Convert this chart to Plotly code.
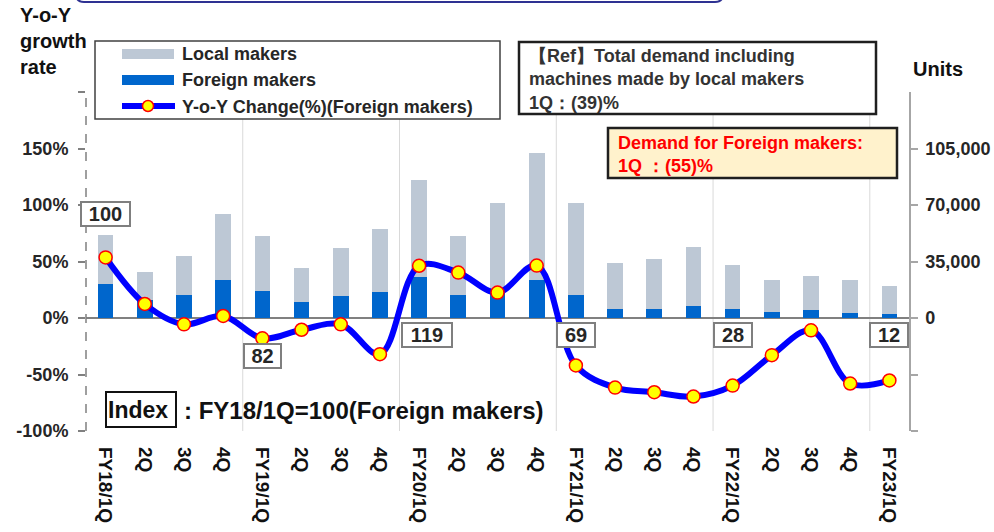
import plotly.graph_objects as go

# ---------------- data ----------------
labels = ["FY18/1Q", "2Q", "3Q", "4Q",
          "FY19/1Q", "2Q", "3Q", "4Q",
          "FY20/1Q", "2Q", "3Q", "4Q",
          "FY21/1Q", "2Q", "3Q", "4Q",
          "FY22/1Q", "2Q", "3Q", "4Q",
          "FY23/1Q"]
foreign = [21100, 11300, 14500, 23600, 17000, 10100, 13500, 16200,
           25100, 14500, 16200, 23600, 14500, 5600, 5800, 7300,
           5600, 3900, 5000, 2900, 2700]
local = [30500, 17500, 24200, 40900, 33800, 20800, 30000, 38900,
         60300, 36300, 55100, 78400, 56800, 28400, 30700, 36700,
         27200, 19700, 21100, 20700, 17200]
yoy = [53.6, 12.4, -5.6, 1.8, -18.0, -10.4, -5.6, -32.0,
       46.2, 40.2, 22.5, 46.4, -42.0, -61.6, -65.7, -69.5,
       -59.8, -32.9, -10.9, -58.0, -55.3]
index_cats = [0, 4, 8, 12, 16, 20]
index_vals = [100, 82, 119, 69, 28, 12]

units_ticks = [-70000, -35000, 0, 35000, 70000, 105000]
units_text = ["", "", "0", "35,000", "70,000", "105,000"]
pct_ticks = [-100, -50, 0, 50, 100, 150, 200]
pct_text = ["-100%", "-50%", "0%", "50%", "100%", "150%", ""]

# ---------------- layout helpers ----------------
W, H = 994, 532
L, R, T, B = 86, 85, 92, 101
PW, PH = W - L - R, H - T - B


def px(x):
    return (x - L) / PW


def py(y):
    return (H - B - y) / PH


FONT = "Liberation Sans, Arial, sans-serif"
DARK = "#262626"
x = list(range(len(labels)))

fig = go.Figure()
fig.add_trace(go.Bar(x=x, y=foreign, name="Foreign makers", yaxis="y",
                     marker=dict(color="#0066CC", line=dict(width=0)), width=0.4))
fig.add_trace(go.Bar(x=x, y=local, name="Local makers", yaxis="y",
                     marker=dict(color="#BDC8D5", line=dict(width=0)), width=0.4))
fig.add_trace(go.Scatter(x=x, y=yoy, name="Y-o-Y Change(%)(Foreign makers)", yaxis="y2",
                         mode="lines+markers",
                         line=dict(color="#0000FF", width=6, shape="spline", smoothing=1.0),
                         marker=dict(size=13, color="#FFFF00", line=dict(color="#FF0000", width=1.5))))

shapes = []
# year separators
for b in [3.5, 7.5, 11.5, 15.5, 19.5]:
    shapes.append(dict(type="line", xref="x", yref="paper", x0=b, x1=b, y0=0, y1=1,
                       line=dict(color="#D9D9D9", width=1), layer="below"))
# dashed left axis
shapes.append(dict(type="line", xref="paper", yref="paper", x0=0, x1=0, y0=0, y1=1,
                   line=dict(color="#808080", width=1.5, dash="dash")))
# top rounded blue box (partly off the page)
x0, x1, yb, yt, r = px(76), px(723), py(2), py(-30), 8
rx, ry = r / PW, r / PH
shapes.append(dict(type="path", xref="paper", yref="paper",
                   path=(f"M {x0},{yt} L {x0},{yb + ry} Q {x0},{yb} {x0 + rx},{yb} "
                         f"L {x1 - rx},{yb} Q {x1},{yb} {x1},{yb + ry} L {x1},{yt}"),
                   line=dict(color="#2E3192", width=2)))
# legend box and swatches
shapes.append(dict(type="rect", xref="paper", yref="paper", x0=px(95), x1=px(500),
                   y0=py(119), y1=py(41), line=dict(color="#404040", width=1.5),
                   fillcolor="white"))
shapes.append(dict(type="rect", xref="paper", yref="paper", x0=px(122), x1=px(174),
                   y0=py(59), y1=py(49), line=dict(width=0), fillcolor="#BDC8D5"))
shapes.append(dict(type="rect", xref="paper", yref="paper", x0=px(122), x1=px(174),
                   y0=py(85), y1=py(75), line=dict(width=0), fillcolor="#0066CC"))
shapes.append(dict(type="line", xref="paper", yref="paper", x0=px(122), x1=px(175),
                   y0=py(106), y1=py(106), line=dict(color="#0000FF", width=6)))
shapes.append(dict(type="circle", xref="paper", yref="paper", x0=px(142.5), x1=px(153.5),
                   y0=py(111.5), y1=py(100.5), fillcolor="#FFFF00",
                   line=dict(color="#FF0000", width=1.5)))
# reference box
shapes.append(dict(type="rect", xref="paper", yref="paper", x0=px(519), x1=px(876),
                   y0=py(114), y1=py(42), line=dict(color="#1F1F1F", width=2.5),
                   fillcolor="white"))
# red note box
shapes.append(dict(type="rect", xref="paper", yref="paper", x0=px(608), x1=px(897),
                   y0=py(178), y1=py(128), line=dict(color="#1F1F1F", width=2.5),
                   fillcolor="#FFF2CC"))

ann = []


def text(xp, yp, s, size, color=DARK, xanchor="left", yanchor="middle", align="left", **kw):
    ann.append(dict(xref="paper", yref="paper", x=px(xp), y=py(yp), text=s, showarrow=False,
                    xanchor=xanchor, yanchor=yanchor, align=align,
                    font=dict(family=FONT, size=size, color=color, weight="bold"), **kw))


text(18, 41, "Y-o-Y<br>growth<br>rate", 20, color="#111111")
text(911, 69, "Units", 20, color="#111111")
text(180, 54, "Local makers", 18)
text(180, 80, "Foreign makers", 18)
text(180, 107, "Y-o-Y Change(%)(Foreign makers)", 18)
text(527, 79.5, "【Ref】Total demand including<br>machines made by local makers<br>1Q：(39)%", 18,
     color="#333333")
text(616, 154, "Demand for Foreign makers:<br>1Q ：(55)%", 18, color="#FF0000")
text(141, 409.5, "Index", 23, color="#111111", xanchor="center",
     bordercolor="#111111", borderwidth=2, borderpad=1, width=66, height=31, bgcolor="white")
text(182, 410, ": FY18/1Q=100(Foreign makers)", 24, color="#111111")

# index labels
idx_y = [91.9, -33.7, -15.2, -14.8, -14.8, -14.8]
idx_w = [47, 35, 48, 36, 36, 36]
idx_dx = [0, 0, 8, 0, 0, 0]
for c, v, yy, w, dx in zip(index_cats, index_vals, idx_y, idx_w, idx_dx):
    ann.append(dict(xref="x", yref="y2", x=c, y=yy, xshift=dx, text=str(v), showarrow=False,
                    font=dict(family=FONT, size=20, color=DARK, weight="bold"),
                    bordercolor="#7F7F7F", borderwidth=2, borderpad=0, bgcolor="white",
                    width=w, height=22))

fig.update_layout(
    width=W, height=H, margin=dict(l=L, r=R, t=T, b=B, autoexpand=False),
    plot_bgcolor="white", paper_bgcolor="white", barmode="stack", bargap=0.6,
    showlegend=False, font=dict(family=FONT, color=DARK),
    shapes=shapes, annotations=ann,
    xaxis=dict(range=[-0.5, len(labels) - 0.5], tickmode="array", tickvals=x, ticktext=labels,
               tickangle=90, showgrid=False, zeroline=False, showline=False, ticks="",
               tickfont=dict(family=FONT, size=19, color="#111111", weight="bold"),
               ticklabelstandoff=15, automargin=False),
    yaxis=dict(side="right", range=[-70000, 140000], tickmode="array", tickvals=units_ticks,
               ticktext=units_text, showgrid=False, zeroline=True, zerolinecolor="#808080",
               zerolinewidth=2, showline=True, linecolor="#A6A6A6", linewidth=1.5,
               ticks="outside", ticklen=7, tickcolor="#A6A6A6", tickwidth=1.5,
               tickfont=dict(family=FONT, size=18, color=DARK, weight="bold"),
               ticklabelstandoff=4, automargin=False),
    yaxis2=dict(side="left", overlaying="y", range=[-100, 200], tickmode="array",
                tickvals=pct_ticks, ticktext=pct_text, showgrid=False, zeroline=False,
                showline=False, ticks="outside", ticklen=7, tickcolor="#808080", tickwidth=1.5,
                tickfont=dict(family=FONT, size=18, color=DARK, weight="bold"),
                ticklabelstandoff=6, automargin=False),
)

fig.write_html("out.html", post_script="document.body.style.margin='0';",
               config={"displayModeBar": False})
